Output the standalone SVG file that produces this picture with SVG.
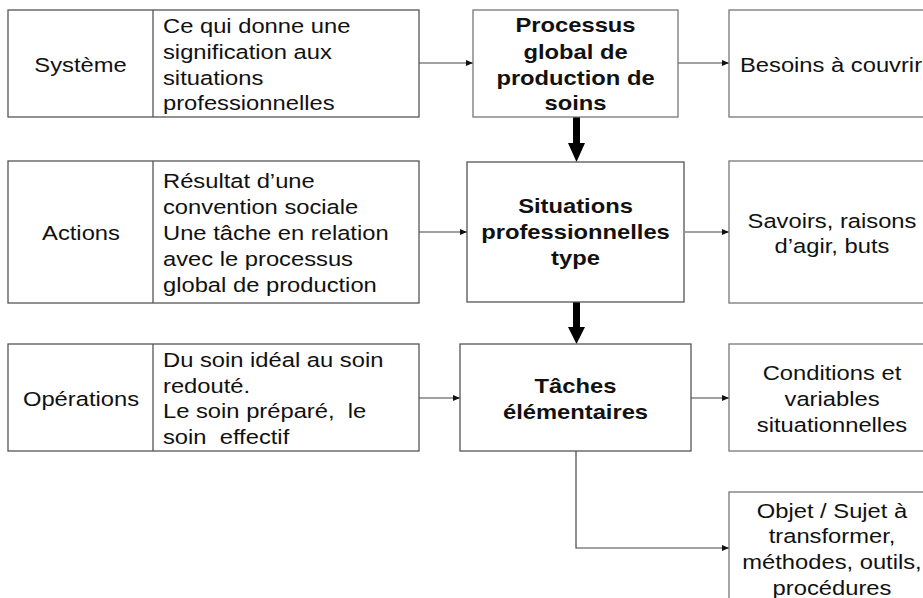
<svg xmlns="http://www.w3.org/2000/svg" width="923" height="598" viewBox="0 0 923 598">
<defs>
<marker id="ah" markerWidth="8" markerHeight="8" refX="7" refY="4" orient="auto" markerUnits="userSpaceOnUse">
<path d="M0,1 L7,4 L0,7 Z" fill="#111"/>
</marker>
<style>
.box{fill:#fff;stroke:#555;stroke-width:1.3}
.boxg{fill:#fff;stroke:#777;stroke-width:1.3}
.t{font-family:"Liberation Sans",Arial,sans-serif;font-size:20.3px;fill:#111}
.b{font-weight:bold}
.c{text-anchor:middle}
.ln{fill:none;stroke:#444;stroke-width:1.2}
</style>
</defs>
<rect width="923" height="598" fill="#fff"/>
<g id="connectors">
<line class="ln" x1="419" y1="63" x2="473" y2="63" marker-end="url(#ah)"/>
<line class="ln" x1="678" y1="63" x2="729" y2="63" marker-end="url(#ah)"/>
<line class="ln" x1="419" y1="232" x2="467" y2="232" marker-end="url(#ah)"/>
<line class="ln" x1="685" y1="232" x2="729" y2="232" marker-end="url(#ah)"/>
<line class="ln" x1="419" y1="398" x2="460" y2="398" marker-end="url(#ah)"/>
<line class="ln" x1="691" y1="398" x2="729" y2="398" marker-end="url(#ah)"/>
<polyline class="ln" points="576,451 576,548 729,548" marker-end="url(#ah)"/>
<path d="M573,117 H580 V143 H585 L576.5,162 L568,143 H573 Z" fill="#000"/>
<path d="M573,302 H580 V327 H585 L576.5,344 L568,327 H573 Z" fill="#000"/>
</g>
<g id="systeme">
<rect class="box" x="8" y="10" width="411" height="107"/>
<line class="box" x1="153" y1="10" x2="153" y2="117"/>
<text class="t c" transform="translate(80.5,0) scale(1.17,1)" x="0" y="72">Système</text>
<text class="t" transform="translate(163,0) scale(1.17,1)"><tspan x="0" y="33">Ce qui donne une</tspan><tspan x="0" y="59">signification aux</tspan><tspan x="0" y="85">situations</tspan><tspan x="0" y="110">professionnelles</tspan></text>
</g>
<g id="actions">
<rect class="box" x="8" y="161" width="411" height="142"/>
<line class="box" x1="153" y1="161" x2="153" y2="303"/>
<text class="t c" transform="translate(81,0) scale(1.17,1)" x="0" y="240">Actions</text>
<text class="t" transform="translate(163,0) scale(1.17,1)"><tspan x="0" y="188">Résultat d’une</tspan><tspan x="0" y="214">convention sociale</tspan><tspan x="0" y="240">Une tâche en relation</tspan><tspan x="0" y="266">avec le processus</tspan><tspan x="0" y="292">global de production</tspan></text>
</g>
<g id="operations">
<rect class="box" x="8" y="344" width="411" height="107"/>
<line class="box" x1="153" y1="344" x2="153" y2="451"/>
<text class="t c" transform="translate(81,0) scale(1.17,1)" x="0" y="406">Opérations</text>
<text class="t" transform="translate(163,0) scale(1.17,1)"><tspan x="0" y="367">Du soin idéal au soin</tspan><tspan x="0" y="393">redouté.</tspan><tspan x="0" y="418" xml:space="preserve">Le soin préparé,  le</tspan><tspan x="0" y="444" xml:space="preserve">soin  effectif</tspan></text>
</g>
<g id="processus">
<rect class="boxg" x="473" y="10" width="205" height="107"/>
<text class="t b c" transform="translate(575.5,0) scale(1.17,1)"><tspan x="0" y="32">Processus</tspan><tspan x="0" y="59">global de</tspan><tspan x="0" y="85">production de</tspan><tspan x="0" y="110">soins</tspan></text>
</g>
<g id="situations">
<rect class="box" x="467" y="162" width="217" height="140"/>
<text class="t b c" transform="translate(575.5,0) scale(1.17,1)"><tspan x="0" y="213">Situations</tspan><tspan x="0" y="239">professionnelles</tspan><tspan x="0" y="265">type</tspan></text>
</g>
<g id="taches">
<rect class="box" x="460" y="344" width="231" height="107"/>
<text class="t b c" transform="translate(575.5,0) scale(1.17,1)"><tspan x="0" y="393">Tâches</tspan><tspan x="0" y="419">élémentaires</tspan></text>
</g>
<g id="besoins">
<rect class="boxg" x="729" y="10" width="210" height="107"/>
<text class="t" transform="translate(740,0) scale(1.17,1)" x="0" y="72">Besoins à couvrir</text>
</g>
<g id="savoirs">
<rect class="boxg" x="729" y="161" width="210" height="142"/>
<text class="t c" transform="translate(832,0) scale(1.17,1)"><tspan x="0" y="228">Savoirs, raisons</tspan><tspan x="0" y="253">d’agir, buts</tspan></text>
</g>
<g id="conditions">
<rect class="boxg" x="729" y="344" width="210" height="107"/>
<text class="t c" transform="translate(832,0) scale(1.17,1)"><tspan x="0" y="380">Conditions et</tspan><tspan x="0" y="406">variables</tspan><tspan x="0" y="432">situationnelles</tspan></text>
</g>
<g id="objet">
<rect class="boxg" x="729" y="492" width="210" height="120"/>
<text class="t c" transform="translate(832,0) scale(1.17,1)"><tspan x="0" y="518">Objet / Sujet à</tspan><tspan x="0" y="543">transformer,</tspan><tspan x="0" y="569">méthodes, outils,</tspan><tspan x="0" y="595">procédures</tspan></text>
</g>
</svg>
